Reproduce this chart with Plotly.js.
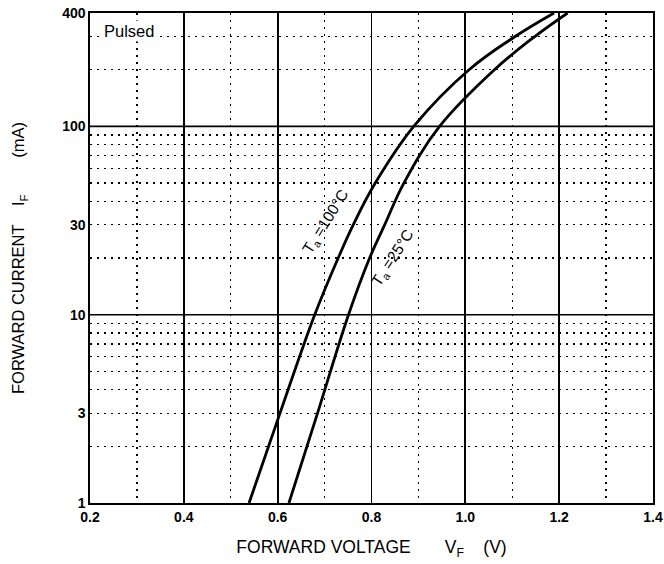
<!DOCTYPE html>
<html><head><meta charset="utf-8">
<script src="https://cdn.plot.ly/plotly-3.0.1.min.js"></script>
<style>body{margin:0;background:#fff}#c{width:664px;height:564px}</style>
</head><body><div id="c"></div>
<script>
// Forward current (mA) sample points
const currentMA = [1, 3, 10, 20, 30, 50, 100, 200, 300, 400];
// Forward voltage (V) at Ta = 100°C
const vf100 = [0.539, 0.605, 0.679, 0.729, 0.761, 0.808, 0.890, 1.008, 1.106, 1.189];
// Forward voltage (V) at Ta = 25°C
const vf25 = [0.624, 0.685, 0.751, 0.796, 0.828, 0.869, 0.945, 1.062, 1.148, 1.218];
// Axis ticks
const xTicks = [0.2, 0.4, 0.6, 0.8, 1.0, 1.2, 1.4];
const xTickText = ['0.2', '0.4', '0.6', '0.8', '1.0', '1.2', '1.4'];
const xMinorGrid = [0.3, 0.5, 0.7, 0.9, 1.1, 1.3];
const yTicks = [1, 3, 10, 30, 100, 400];
const yMinorGrid = [2, 4, 5, 6, 7, 8, 9, 20, 40, 50, 60, 70, 80, 90, 200, 300];
const ySolidGrid = [10, 100];

const FONT = 'Liberation Sans, Arial, sans-serif';
const dotted = '2px,5px';
const NB = n => '\u00A0'.repeat(n);

const traces = [
  {x: vf100, y: currentMA, mode: 'lines', line: {color: '#000', width: 2.8, shape: 'spline', smoothing: 1.1}, hoverinfo: 'skip'},
  {x: vf25, y: currentMA, mode: 'lines', line: {color: '#000', width: 2.8, shape: 'spline', smoothing: 1.1}, hoverinfo: 'skip'}
];

const shapes = ySolidGrid.map(v => ({type: 'line', xref: 'paper', yref: 'y', x0: 0, x1: 1, y0: v, y1: v, line: {color: '#000', width: 1.6}, layer: 'below'}));

const layout = {
  width: 664, height: 564,
  margin: {l: 89.5, r: 11, t: 13, b: 61},
  paper_bgcolor: '#fff', plot_bgcolor: '#fff',
  showlegend: false,
  font: {family: FONT, color: '#000'},
  xaxis: {
    range: [0.2, 1.4], tickvals: xTicks, ticktext: xTickText,
    showgrid: true, gridcolor: '#000', gridwidth: 1.7,
    minor: {tickvals: xMinorGrid, showgrid: true, gridcolor: '#000', gridwidth: 1.3, griddash: dotted, ticks: ''},
    showline: true, linecolor: '#000', linewidth: 1.7, mirror: true,
    ticks: '', zeroline: false,
    tickfont: {family: FONT, size: 14, color: '#000', weight: 'bold'},
    title: {text: 'FORWARD VOLTAGE' + NB(7) + 'V<sub>F</sub>' + NB(4) + '(V)', font: {family: FONT, size: 17.5, color: '#000'}, standoff: 17}
  },
  yaxis: {
    type: 'log', range: [0, Math.log10(400)], tickvals: yTicks, ticktext: yTicks.map(String),
    showgrid: true, gridcolor: '#000', gridwidth: 1.3, griddash: dotted,
    minor: {tickvals: yMinorGrid, showgrid: true, gridcolor: '#000', gridwidth: 1.3, griddash: dotted, ticks: ''},
    showline: true, linecolor: '#000', linewidth: 1.7, mirror: true,
    ticks: '', zeroline: false,
    tickfont: {family: FONT, size: 14, color: '#000', weight: 'bold'},
    title: {text: 'FORWARD CURRENT' + NB(4) + 'I<sub>F</sub>' + NB(8) + '(mA)', font: {family: FONT, size: 16.5, color: '#000'}, standoff: 33}
  },
  shapes: shapes,
  annotations: [
    {x: 0.226, y: Math.log10(320), xref: 'x', yref: 'y', text: 'Pulsed', showarrow: false, xanchor: 'left', yanchor: 'middle',
     bgcolor: '#fff', font: {family: FONT, size: 16.5, color: '#000'}, borderpad: 1},
    {x: 0.702, y: Math.log10(31), xref: 'x', yref: 'y', text: 'T<sub>a</sub> =100°C', showarrow: false, textangle: -58,
     font: {family: FONT, size: 15.5, color: '#000'}},
    {x: 0.845, y: Math.log10(20), xref: 'x', yref: 'y', text: 'T<sub>a</sub> =25°C', showarrow: false, textangle: -57,
     font: {family: FONT, size: 15.5, color: '#000'}}
  ]
};

Plotly.newPlot('c', traces, layout, {staticPlot: true, displayModeBar: false});
</script>
</body></html>
